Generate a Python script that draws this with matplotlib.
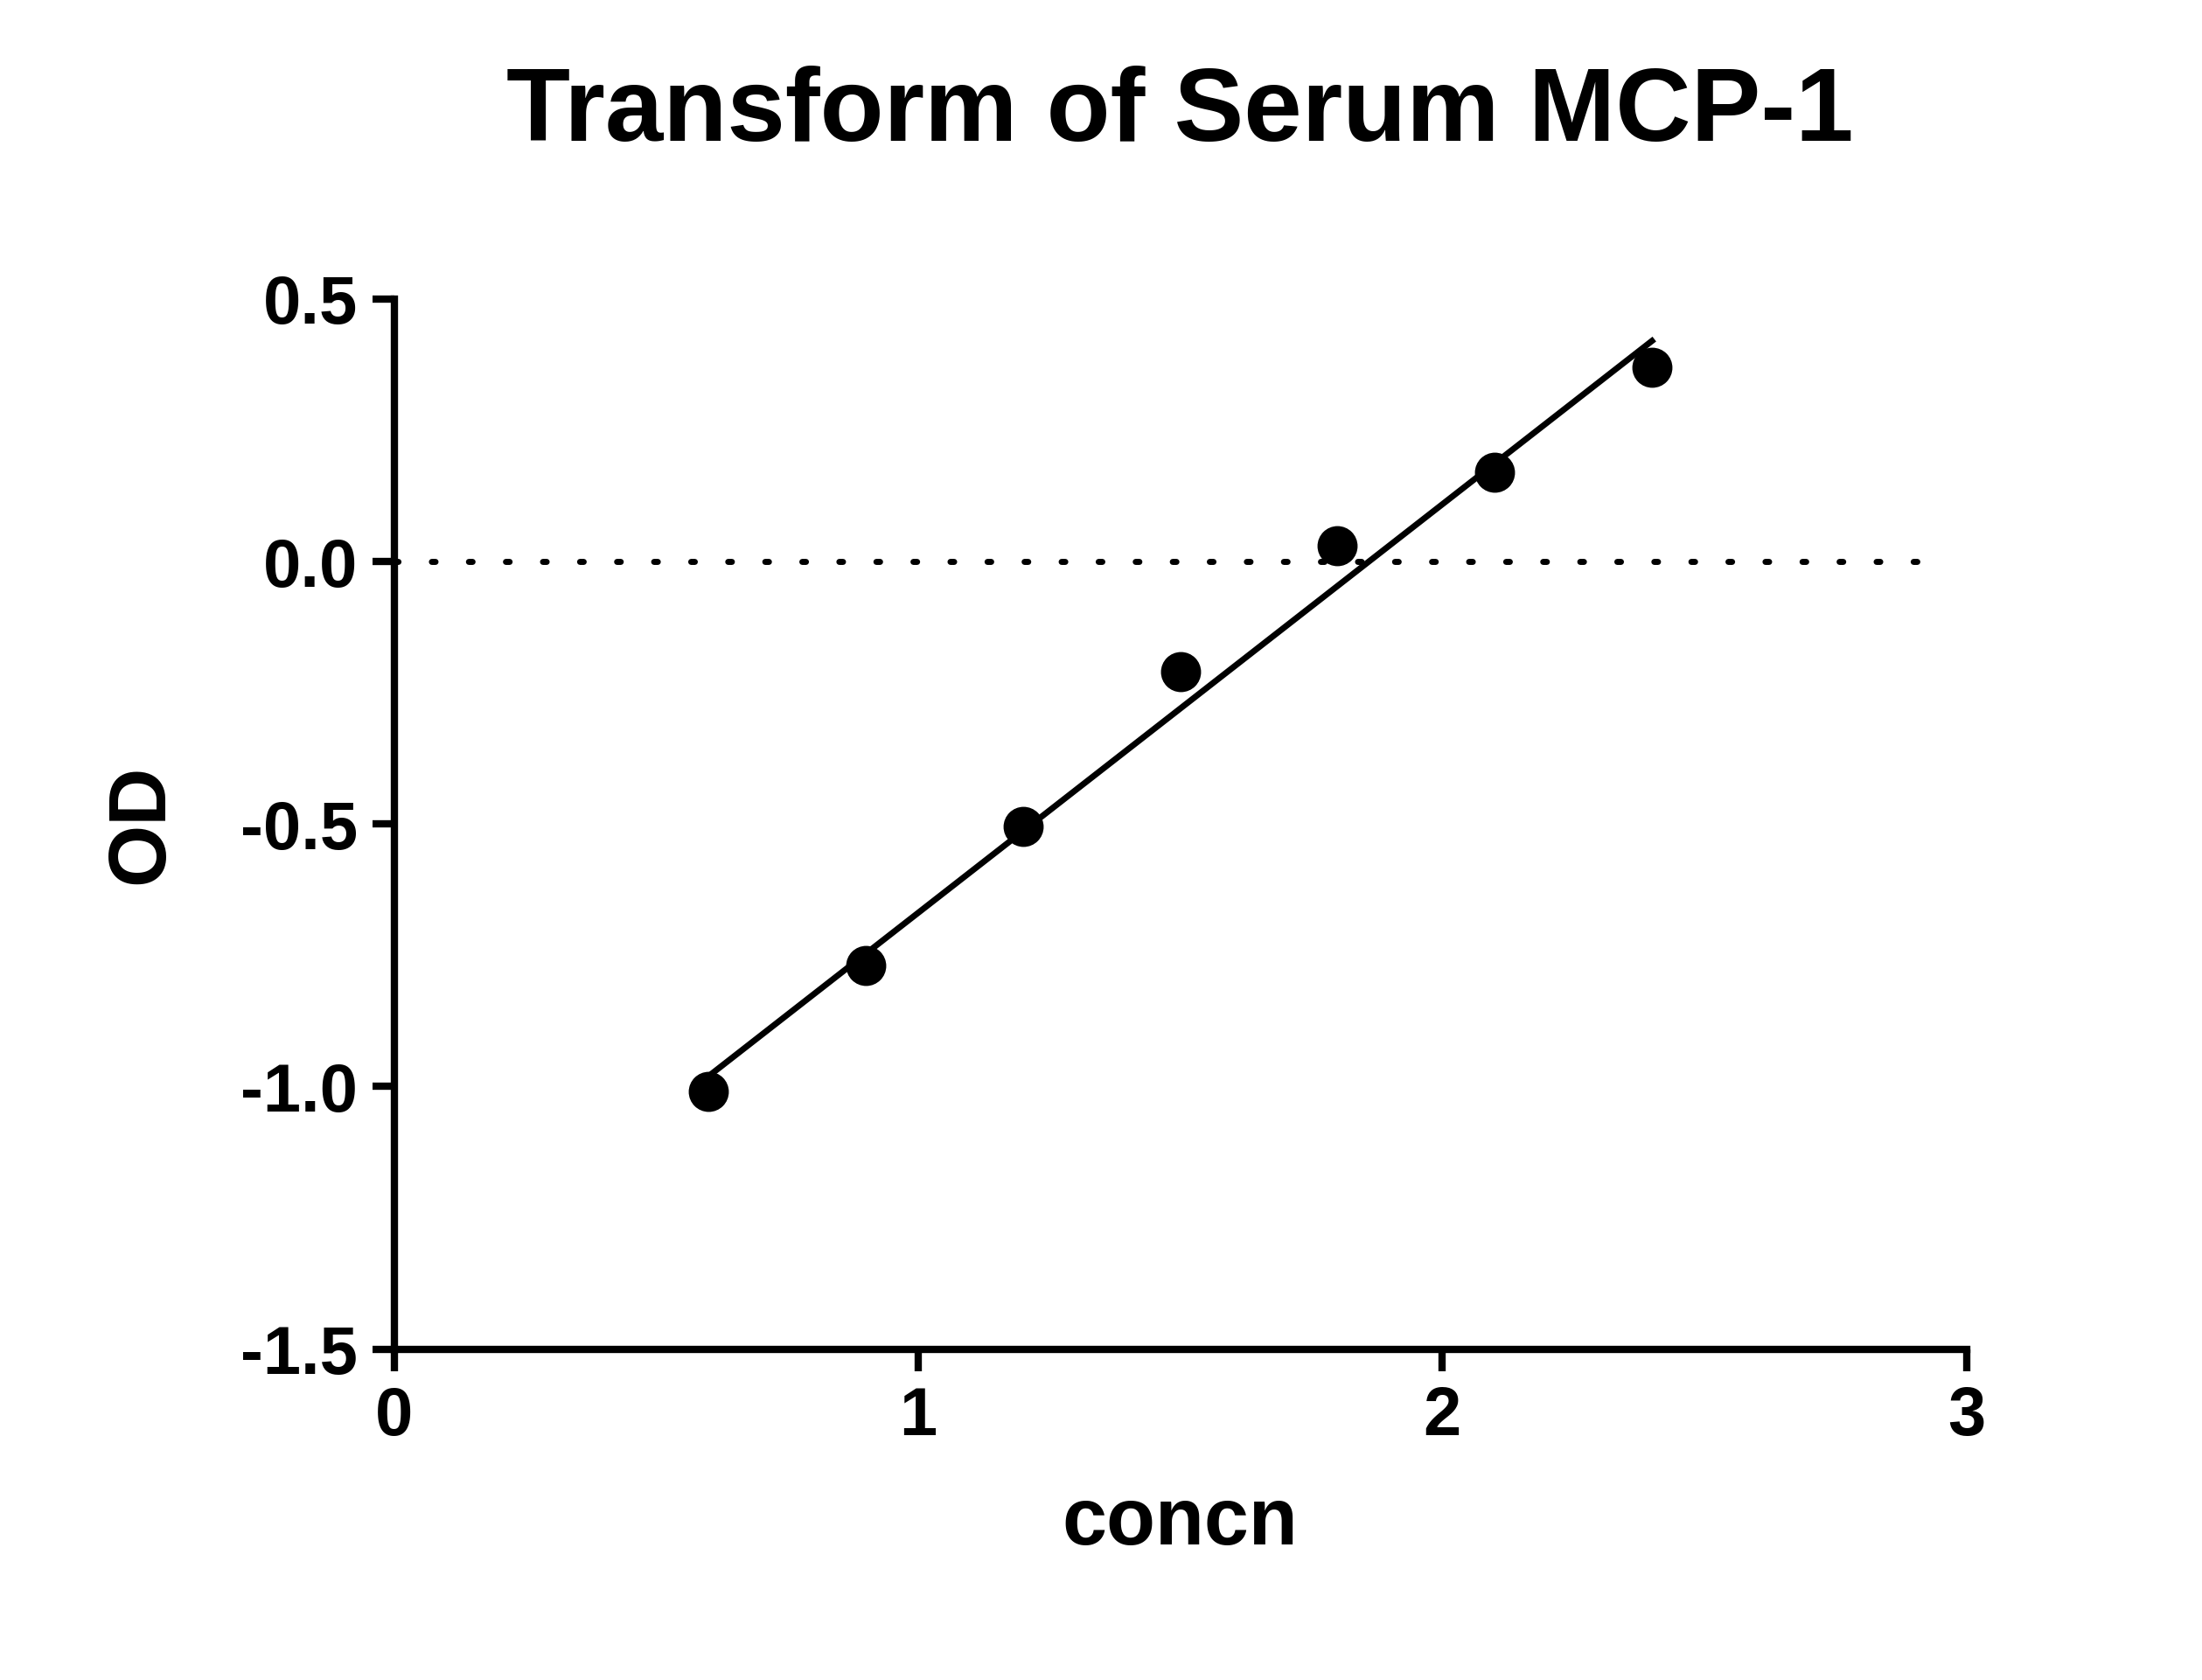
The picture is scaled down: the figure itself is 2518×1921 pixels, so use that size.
import numpy as np
import matplotlib
matplotlib.use("Agg")
import matplotlib.pyplot as plt

# --- data ---
concn = [0.6, 0.9, 1.2, 1.5, 1.8, 2.1, 2.4]
od = [-1.01, -0.77, -0.505, -0.21, 0.03, 0.17, 0.37]
fit_slope = 0.778
fit_intercept = -1.447
x_ticks = [0, 1, 2, 3]
y_ticks = [-1.5, -1.0, -0.5, 0.0, 0.5]

plt.rcParams['font.family'] = ['Liberation Sans', 'DejaVu Sans']
plt.rcParams['font.weight'] = 'bold'

fig = plt.figure(figsize=(25.18, 19.21), dpi=100)
ax = fig.add_axes([0.179, 0.197, 0.714, 0.625])

fx = np.array([concn[0], concn[-1]])
ax.plot(fx, fit_slope * fx + fit_intercept, color="black", lw=5, zorder=2)
ax.plot(concn, od, "o", color="black", ms=32, zorder=3)
ax.axhline(0, xmin=0, xmax=1 - 0.05 / 3, color="black", lw=5,
           linestyle=(0, (0.6, 5.5)), dash_capstyle="round")

ax.set_xlim(0, 3)
ax.set_ylim(-1.5, 0.5)
ax.set_xticks(x_ticks)
ax.set_yticks(y_ticks)
ax.set_yticklabels([f"{v:.1f}" for v in y_ticks])
for s in ["top", "right"]:
    ax.spines[s].set_visible(False)
for s in ["left", "bottom"]:
    ax.spines[s].set_linewidth(6)
ax.tick_params(width=6, length=18, labelsize=56, pad=12)
for lab in ax.get_xticklabels() + ax.get_yticklabels():
    lab.set_fontweight("bold")

ax.set_title("Transform of Serum MCP-1", fontsize=86, fontweight="bold", pad=130)
ax.set_xlabel("concn", fontsize=66, fontweight="bold", labelpad=30)
ax.set_ylabel("OD", fontsize=66, fontweight="bold", labelpad=50)

fig.savefig("out.png", dpi=100)
